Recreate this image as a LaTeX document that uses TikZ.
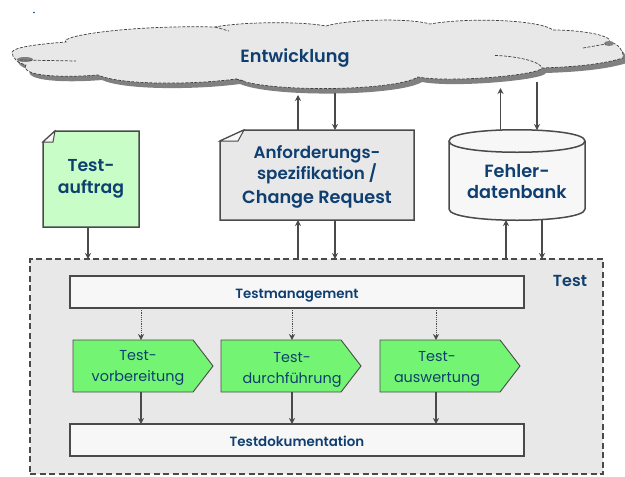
\documentclass[tikz,border=0pt]{standalone}
\usepackage{fontspec}
\setmainfont{Poppins}[BoldFont={Poppins SemiBold}]
\usetikzlibrary{shapes.symbols,arrows.meta}
\definecolor{txt}{HTML}{0F3F70}
\definecolor{ln}{HTML}{4A4A4A}
\definecolor{bg}{HTML}{E8E8E8}
\definecolor{pale}{HTML}{F7F7F7}
\definecolor{mint}{HTML}{C8FDC8}
\definecolor{grn}{HTML}{73F573}
\tikzset{
  x=1pt,y=-1pt,
  label text/.style={text=txt,align=center,inner sep=0pt,outer sep=0pt},
  area/.style={inner sep=0pt,outer sep=0pt,anchor=north west},
  bar/.style={area,draw=ln,line width=1.2pt,fill=pale,minimum width=454pt,minimum height=32pt,text=txt,text height=15pt,text depth=3pt,font=\fontsize{13.4}{16}\selectfont\bfseries},
  stage/.style={signal,signal to=east,signal from=nowhere,signal pointer angle=105,draw=ln,line width=0.9pt,fill=grn,minimum width=140pt,minimum height=52pt,inner sep=0pt,outer sep=0pt,anchor=west},
  stage text/.style={label text,font=\fontsize{14.4}{21}\selectfont},
  shapeline/.style={draw=ln,line width=1.5pt,line join=miter},
  conn/.style={draw=ln,line width=1.2pt,-{Stealth[length=6pt,width=6pt]}},
  dotconn/.style={conn,densely dotted,line width=0.9pt},
  cloudline/.style={draw=black!75,line width=0.7pt,dash pattern=on 3pt off 1.5pt},
}
\newcommand{\cloudpath}{(12,52) .. controls (14,47) and (40,44) .. (66,42)
  .. controls (58,36) and (130,25) .. (215,27)
  .. controls (240,22) and (300,21) .. (326,26)
  .. controls (350,19) and (410,18) .. (430,24)
  .. controls (470,17) and (540,20) .. (553,30)
  .. controls (580,30) and (612,35) .. (610,42)
  .. controls (618,44) and (624,50) .. (623,58)
  .. controls (600,65) and (570,67) .. (542,68)
  .. controls (540,75) and (450,83) .. (418,77)
  .. controls (395,91) and (270,93) .. (236,79)
  .. controls (190,85) and (120,85) .. (98,75)
  .. controls (60,78) and (20,76) .. (26,65)
  .. controls (18,63) and (12,58) .. (12,52) -- cycle}
\begin{document}
\begin{tikzpicture}
\useasboundingbox (0,0) rectangle (625,477);
\fill[white] (0,0) rectangle (625,477);
\fill[txt] (34,12.5) circle (0.9);
% cloud
\fill[gray,xshift=4pt,yshift=-5pt] \cloudpath;
\path[fill=bg,cloudline] \cloudpath;
\fill[gray] (25,59.5) ellipse (8 and 2.5);
\fill[gray] (609,43.5) ellipse (5 and 2.5);
\draw[cloudline] (20,60) -- (76,61);
\draw[cloudline] (495,55.5) .. controls (515,56) and (540,61) .. (542,68);
\draw[cloudline] (583,48) -- (606,44);
\draw[cloudline] (215,27) -- (229,31);
\draw[cloudline] (236,79) -- (245,81);
\node[label text,font=\fontsize{17.7}{20}\selectfont\bfseries] (dev) at (295,58) {Entwicklung};
% test frame
\node[area,fill=bg,draw=ln,line width=1.2pt,dash pattern=on 6pt off 3.5pt,minimum width=573pt,minimum height=215pt] (test) at (30,259) {};
\node[label text,font=\fontsize{16}{18}\selectfont\bfseries] (testlabel) at (570,281) {Test};
% Testauftrag
\path[shapeline,fill=mint] (43,142) -- (55,131) -- (139,131) -- (139,227) -- (43,227) -- cycle;
\path[shapeline,line width=1pt,fill=pale] (43,142) -- (55,131) -- (53,142) -- cycle;
\node[area,minimum width=96pt,minimum height=96pt,label text,font=\fontsize{17.3}{22}\selectfont\bfseries] (auftrag) at (43,131) {Test-\\auftrag};
% Spec
\path[shapeline,fill=bg] (220,141) -- (244,130) -- (414,130) -- (414,220) -- (220,220) -- cycle;
\path[shapeline,line width=1pt,fill=pale] (220,141) -- (244,130) -- (238,141) -- cycle;
\node[area,minimum width=194pt,minimum height=90pt,label text,font=\fontsize{16.7}{21}\selectfont\bfseries] (spec) at (220,130) {\rule{0pt}{16pt}\\[-21pt]Anforderungs-\\spezifikation /\\[3pt]{\fontsize{17.7}{21}\selectfont Change Request}};
% Cylinder
\path[shapeline,fill=pale] (449,141) -- (449,209) .. controls (449,224) and (585,224) .. (585,209) -- (585,141) .. controls (585,126) and (449,126) .. (449,141) -- cycle;
\draw[shapeline] (449,141) .. controls (449,156) and (585,156) .. (585,141);
\node[area,minimum width=136pt,minimum height=90pt,label text,font=\fontsize{17.7}{21}\selectfont\bfseries] (db) at (449,130) {\rule{0pt}{24pt}\\[-18pt]Fehler-\\datenbank};
% Bars
\node[bar] (mgmt) at (70,276) {Testmanagement};
\node[bar] (doc) at (70,424) {Testdokumentation};
% Stages
\node[stage] (s1) at (73,366) {};
\node[stage] (s2) at (221,366) {};
\node[stage] (s3) at (380,366) {};
\node[stage text] (t1) at (138,368) {Test-\\vorbereitung};
\node[stage text] (t2) at (292,370) {Test-\\durchführung};
\node[stage text] (t3) at (437,369) {Test-\\auswertung};
% connector columns
\coordinate (xa) at (88,0);
\coordinate (xb) at (298,0);
\coordinate (xc) at (335,0);
\coordinate (xd) at (500.5,0);
\coordinate (xe) at (537,0);
\coordinate (xf) at (506,0);
\coordinate (xg) at (542,0);
\coordinate (x1) at (141,0);
\coordinate (x2) at (292,0);
\coordinate (x3) at (436,0);
\draw[conn] (xa |- auftrag.south) -- (xa |- test.north);
\draw[conn] (xb |- test.north) -- (xb |- spec.south);
\draw[conn] (xc |- spec.south) -- (xc |- test.north);
\draw[conn] (xb |- spec.north) -- +(0,-35);
\draw[conn] (xc |- dev) ++(0,35) -- (xc |- spec.north);
\draw[conn] (xd |- db.north) -- +(0,-42);
\draw[conn] (xe |- dev) ++(0,24) -- (xe |- db.north);
\draw[conn] (xf |- test.north) -- (xf |- db.south);
\draw[conn] (xg |- db.south) -- (xg |- test.north);
\foreach \x/\s in {x1/s1,x2/s2,x3/s3}{
  \draw[dotconn] (\x |- mgmt.south) -- (\x |- \s.north);
  \draw[conn] (\x |- \s.south) -- (\x |- doc.north);
}
\end{tikzpicture}
\end{document}
